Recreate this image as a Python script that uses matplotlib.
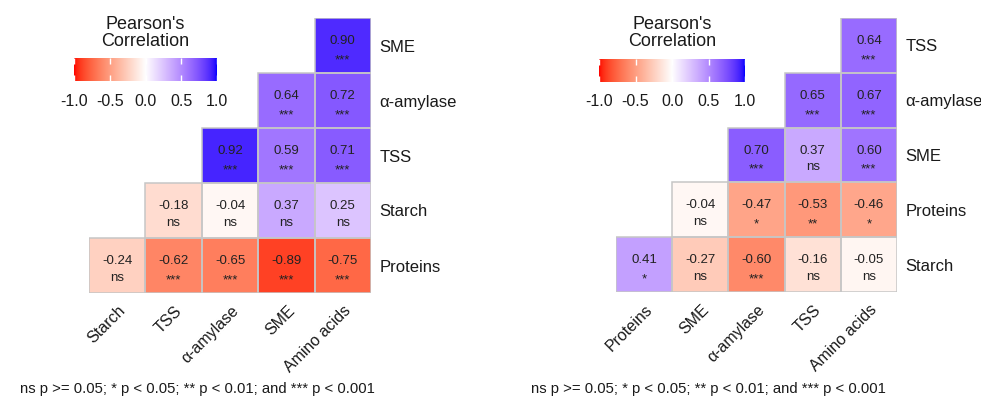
import numpy as np
import matplotlib
matplotlib.use("Agg")
import matplotlib.pyplot as plt
from matplotlib.colors import ListedColormap
from matplotlib.patches import Rectangle
from matplotlib.transforms import ScaledTranslation

plt.rcParams['font.family'] = ['Liberation Sans', 'DejaVu Sans']

# ---------------- data ----------------
left_cols = ["Starch", "TSS", "α-amylase", "SME", "Amino acids"]
left_rows = ["SME", "α-amylase", "TSS", "Starch", "Proteins"]
left_vals = [
    [np.nan, np.nan, np.nan, np.nan, 0.90],
    [np.nan, np.nan, np.nan, 0.64, 0.72],
    [np.nan, np.nan, 0.92, 0.59, 0.71],
    [np.nan, -0.18, -0.04, 0.37, 0.25],
    [-0.24, -0.62, -0.65, -0.89, -0.75],
]
left_sig = [
    ["", "", "", "", "***"],
    ["", "", "", "***", "***"],
    ["", "", "***", "***", "***"],
    ["", "ns", "ns", "ns", "ns"],
    ["ns", "***", "***", "***", "***"],
]

right_cols = ["Proteins", "SME", "α-amylase", "TSS", "Amino acids"]
right_rows = ["TSS", "α-amylase", "SME", "Proteins", "Starch"]
right_vals = [
    [np.nan, np.nan, np.nan, np.nan, 0.64],
    [np.nan, np.nan, np.nan, 0.65, 0.67],
    [np.nan, np.nan, 0.70, 0.37, 0.60],
    [np.nan, -0.04, -0.47, -0.53, -0.46],
    [0.41, -0.27, -0.60, -0.16, -0.05],
]
right_sig = [
    ["", "", "", "", "***"],
    ["", "", "", "***", "***"],
    ["", "", "***", "ns", "***"],
    ["", "ns", "*", "**", "*"],
    ["*", "ns", "***", "ns", "ns"],
]

cbar_ticks = [-1.0, -0.5, 0.0, 0.5, 1.0]
footnote = "ns p >= 0.05; * p < 0.05; ** p < 0.01; and *** p < 0.001"
legend_title = "Pearson's\nCorrelation"

# ---------------- Lab colour scale (red - white - blue) ----------------
def srgb_to_lab(rgb):
    rgb = np.asarray(rgb, float)
    lin = np.where(rgb <= 0.04045, rgb / 12.92, ((rgb + 0.055) / 1.055) ** 2.4)
    M = np.array([[0.4124, 0.3576, 0.1805],
                  [0.2126, 0.7152, 0.0722],
                  [0.0193, 0.1192, 0.9505]])
    xyz = M @ lin
    wp = np.array([0.95047, 1.0, 1.08883])
    t = xyz / wp
    f = np.where(t > (6 / 29) ** 3, np.cbrt(t), t / (3 * (6 / 29) ** 2) + 4 / 29)
    return np.array([116 * f[1] - 16, 500 * (f[0] - f[1]), 200 * (f[1] - f[2])])

def lab_to_srgb(lab):
    L, a, b = lab
    fy = (L + 16) / 116
    fx = fy + a / 500
    fz = fy - b / 200
    def finv(t):
        return np.where(t > 6 / 29, t ** 3, 3 * (6 / 29) ** 2 * (t - 4 / 29))
    wp = np.array([0.95047, 1.0, 1.08883])
    xyz = np.array([finv(fx), finv(fy), finv(fz)]) * wp
    Minv = np.array([[3.2406, -1.5372, -0.4986],
                     [-0.9689, 1.8758, 0.0415],
                     [0.0557, -0.2040, 1.0570]])
    lin = Minv @ xyz
    lin = np.clip(lin, 0, 1)
    rgb = np.where(lin <= 0.0031308, 12.92 * lin, 1.055 * lin ** (1 / 2.4) - 0.055)
    return np.clip(rgb, 0, 1)

lab_red = srgb_to_lab([1, 0, 0])
lab_white = srgb_to_lab([1, 1, 1])
lab_blue = srgb_to_lab([0, 0, 1])
cols = []
for v in np.linspace(-1, 1, 512):
    if v < 0:
        lab = lab_white + (lab_red - lab_white) * (-v)
    else:
        lab = lab_white + (lab_blue - lab_white) * v
    cols.append(lab_to_srgb(lab))
cmap = ListedColormap(cols)

W, H = 981, 400
fig = plt.figure(figsize=(W / 100, H / 100), dpi=100)
TXT = '#1a1a1a'

def px_axes(x0, y0, x1, y1):
    return fig.add_axes([x0 / W, 1 - y1 / H, (x1 - x0) / W, (y1 - y0) / H])

def draw_panel(box, cols_lab, rows_lab, vals, sig, cbox, fx):
    ax = px_axes(*box)
    arr = np.array(vals, float)
    data = np.ma.masked_invalid(arr)
    n_r, n_c = data.shape
    ax.pcolormesh(np.arange(n_c + 1), np.arange(n_r + 1), data, cmap=cmap,
                  vmin=-1, vmax=1, edgecolors='none')
    ax.set_xlim(0, n_c)
    ax.set_ylim(n_r, 0)
    for s in ax.spines.values():
        s.set_visible(False)
    for i in range(n_r):
        for j in range(n_c):
            v = arr[i, j]
            if np.isnan(v):
                continue
            ax.add_patch(Rectangle((j, i), 1, 1, fill=False,
                                   edgecolor='#C6C6C6', linewidth=1.1))
            ax.text(j + 0.5, i + 0.42, f"{v:.2f}", ha='center', va='center',
                    fontsize=9.5, color='#222222')
            s = sig[i][j]
            if s == "ns":
                ax.text(j + 0.5, i + 0.72, s, ha='center', va='center',
                        fontsize=9.5, color='#222222')
            else:
                ax.text(j + 0.5, i + 0.77, s, ha='center', va='center',
                        fontsize=9.5, color='#222222')
    ax.yaxis.tick_right()
    ax.set_yticks(np.arange(n_r) + 0.5)
    ax.set_yticklabels(rows_lab, fontsize=12, color=TXT)
    ax.set_xticks(np.arange(n_c) + 0.5)
    ax.set_xticklabels(cols_lab, fontsize=11.5, rotation=45, ha='right',
                       va='center', rotation_mode='anchor', color=TXT)
    ax.tick_params(length=0)
    ax.tick_params(axis='y', pad=6)
    ax.tick_params(axis='x', pad=11)
    off = ScaledTranslation(6 / 100, 0, fig.dpi_scale_trans)
    for lbl in ax.get_xticklabels():
        lbl.set_transform(lbl.get_transform() + off)

    # colour bar
    cax = px_axes(*cbox)
    grad = np.linspace(-1, 1, 256)[None, :]
    cax.imshow(grad, cmap=cmap, vmin=-1, vmax=1, aspect='auto',
               extent=[-1, 1, 0, 1])
    cax.set_xlim(-1, 1)
    cax.set_ylim(0, 1)
    cax.set_yticks([])
    for s in cax.spines.values():
        s.set_visible(False)
    cax.set_xticks(cbar_ticks)
    cax.set_xticklabels([f"{t:.1f}" for t in cbar_ticks], fontsize=11.5,
                        color=TXT)
    cax.tick_params(axis='x', direction='in', color='white', length=4,
                    width=1, pad=9, top=True)
    cx = (cbox[0] + cbox[2]) / 2
    fig.text(cx / W, 1 - 33 / H, legend_title, ha='center', va='center',
             fontsize=13, linespacing=1.02, color=TXT)
    fig.text(fx / W, 1 - 389 / H, footnote, ha='left', va='center',
             fontsize=10.7, color=TXT)

draw_panel((89, 18, 371, 293), left_cols, left_rows, left_vals, left_sig,
           (74, 58, 217, 81), 20)
draw_panel((616, 18, 897, 292), right_cols, right_rows, right_vals, right_sig,
           (599, 59, 745, 82), 531)

fig.savefig("out.png", dpi=100)
